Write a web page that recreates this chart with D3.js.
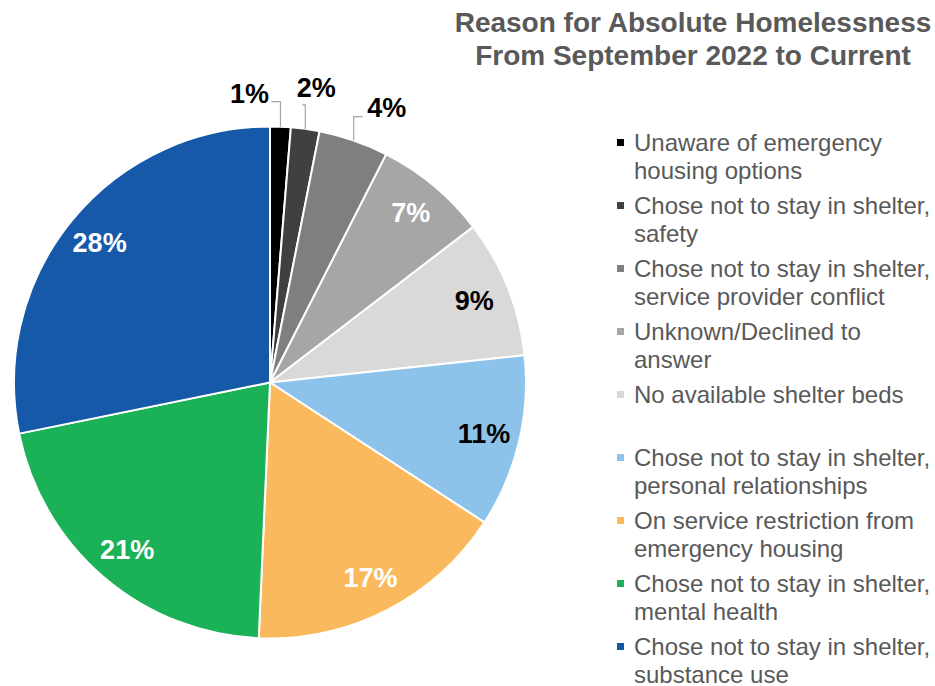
<!DOCTYPE html>
<html><head><meta charset="utf-8">
<script src="https://cdn.jsdelivr.net/npm/d3@7"></script>
<style>body{margin:0;background:#fff;}svg{display:block;font-family:"Liberation Sans",Arial,sans-serif;}</style>
</head><body>
<script>
const categories = [
  ["Unaware of emergency", "housing options"],
  ["Chose not to stay in shelter,", "safety"],
  ["Chose not to stay in shelter,", "service provider conflict"],
  ["Unknown/Declined to", "answer"],
  ["No available shelter beds"],
  ["Chose not to stay in shelter,", "personal relationships"],
  ["On service restriction from", "emergency housing"],
  ["Chose not to stay in shelter,", "mental health"],
  ["Chose not to stay in shelter,", "substance use"]
];
const values = [1.3, 1.8, 4.4, 7.1, 8.7, 10.9, 16.5, 21.1, 28.2];
const labels = ["1%", "2%", "4%", "7%", "9%", "11%", "17%", "21%", "28%"];
const colors = ["#000000", "#404040", "#7f7f7f", "#a6a6a6", "#d9d9d9", "#8dc3ea", "#f9b95c", "#1bb157", "#1559a8"];
const labelColors = ["#000", "#000", "#000", "#fff", "#000", "#000", "#fff", "#fff", "#fff"];
const titleLines = ["Reason for Absolute Homelessness", "From September 2022 to Current"];

const W = 935, H = 686;
const svg = d3.select("body").append("svg").attr("width", W).attr("height", H);

const cx = 270, cy = 382.5, R = 256;
const g = svg.append("g").attr("transform", `translate(${cx},${cy})`);
const pie = d3.pie().sort(null).value(d => d)(values);
const arc = d3.arc().innerRadius(0).outerRadius(R);
const labelArc = d3.arc().innerRadius(220).outerRadius(220);
const edgeArc = d3.arc().innerRadius(R).outerRadius(R);

g.selectAll("path.slice").data(pie).join("path")
  .attr("class", "slice")
  .attr("d", arc)
  .attr("fill", (d, i) => colors[i])
  .attr("stroke", "#fff").attr("stroke-width", 2).attr("stroke-linejoin", "round");

// inside labels
g.selectAll("text.in").data(pie.filter(d => d.value >= 5)).join("text")
  .attr("class", "in")
  .attr("x", d => labelArc.centroid(d)[0])
  .attr("y", d => labelArc.centroid(d)[1])
  .attr("text-anchor", "middle").attr("dominant-baseline", "central")
  .attr("font-size", 27).attr("font-weight", "bold")
  .attr("fill", d => labelColors[d.index])
  .text(d => labels[d.index]);

// outside labels with leader lines (small slices)
const outside = [
  {i: 0, lx: -31, ly: -33, elbow: 8, hx: -9},
  {i: 1, lx: 11, ly: -41, elbow: 17, hx: -3},
  {i: 2, lx: 33, ly: -33, elbow: 9, hx: 9}
];
outside.forEach(o => {
  const p = edgeArc.centroid(pie[o.i]);
  const tx = p[0] + o.lx, ty = p[1] + o.ly;
  const ey = ty + o.elbow;
  g.append("path")
    .attr("d", `M${p[0]},${p[1]}L${p[0]},${ey}L${p[0] + o.hx},${ey}`)
    .attr("fill", "none").attr("stroke", "#a6a6a6").attr("stroke-width", 1.2);
  g.append("text")
    .attr("x", tx).attr("y", ty)
    .attr("text-anchor", "middle").attr("dominant-baseline", "central")
    .attr("font-size", 27).attr("font-weight", "bold").attr("fill", "#000")
    .text(labels[o.i]);
});

// title
svg.append("g").selectAll("text").data(titleLines).join("text")
  .attr("x", 693).attr("y", (d, i) => 32 + i * 33)
  .attr("text-anchor", "middle")
  .attr("font-size", 28).attr("font-weight", "bold").attr("fill", "#595959")
  .text(d => d);

// legend
const lg = svg.append("g");
const items = lg.selectAll("g").data(categories).join("g")
  .attr("transform", (d, i) => `translate(617,${142.5 + i * 63})`);
items.append("rect").attr("x", 0).attr("y", -3.5).attr("width", 7).attr("height", 7)
  .attr("fill", (d, i) => colors[i]);
items.each(function(d) {
  d3.select(this).selectAll("text").data(d).join("text")
    .attr("x", 17).attr("y", (t, j) => 8.5 + j * 27.5)
    .attr("font-size", 24).attr("fill", "#595959")
    .text(t => t);
});
</script>
</body></html>
